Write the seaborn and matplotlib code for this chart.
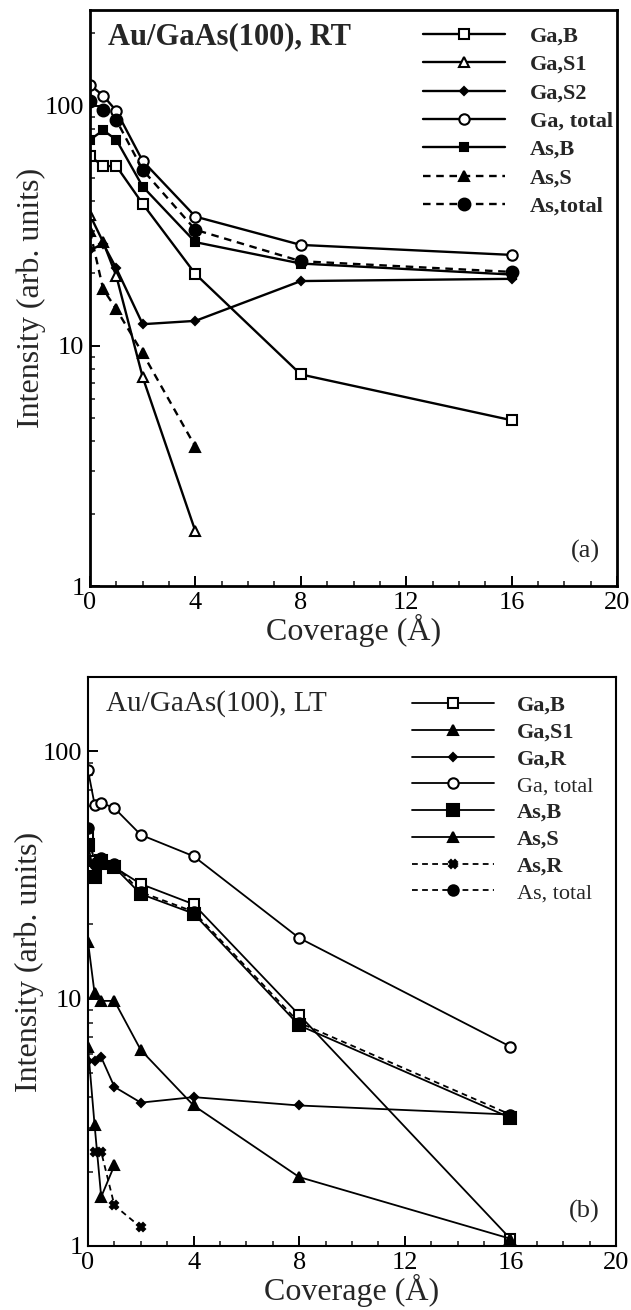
import matplotlib
matplotlib.use("Agg")
import matplotlib.pyplot as plt
import seaborn as sns
from matplotlib.ticker import MultipleLocator, LogLocator, NullFormatter

# ---------------- (a) Au/GaAs(100), room temperature ----------------
rt_cov = [0, 0.5, 1, 2, 4, 8, 16]
rt_cov_surf = [0, 0.5, 1, 2, 4]
rt_ga_b = [61.6, 56, 56, 39, 19.9, 7.6, 4.9]
rt_ga_s1 = [35, 27, 19.5, 7.4, 1.69]
rt_ga_s2 = [25, 26.6, 21, 12.3, 12.7, 18.6, 19.0]
rt_ga_total = [122, 110, 95, 58.8, 34.5, 26.3, 23.9]
rt_as_b = [72, 79, 72, 46, 27, 22, 19.8]
rt_as_s = [30, 17.2, 14.2, 9.3, 3.8]
rt_as_total = [104, 96, 87, 54, 30.4, 22.5, 20.3]
rt_labels = ["Ga,B", "Ga,S1", "Ga,S2", "Ga, total", "As,B", "As,S", "As,total"]

# ---------------- (b) Au/GaAs(100), low temperature ----------------
lt_cov = [0, 0.25, 0.5, 1, 2, 4, 8, 16]
lt_cov_as_s = [0, 0.25, 0.5, 1]
lt_cov_as_r = [0.25, 0.5, 1, 2]
lt_ga_b = [45, 36, 35, 34, 29.1, 24.1, 8.6, 1.07]
lt_ga_s1 = [17, 10.5, 9.8, 9.8, 6.2, 3.7, 1.9, 1.07]
lt_ga_r = [5.6, 5.6, 5.8, 4.4, 3.8, 4.0, 3.7, 3.4]
lt_ga_total = [84, 61, 62, 59, 46, 37.7, 17.6, 6.4]
lt_as_b = [42, 31, 36, 34, 26.5, 22.1, 7.8, 3.3]
lt_as_s = [6.35, 3.08, 1.58, 2.12]
lt_as_r = [2.4, 2.4, 1.46, 1.19]
lt_as_total = [49, 35, 37, 35, 27, 22.5, 8.0, 3.4]
lt_labels = ["Ga,B", "Ga,S1", "Ga,R", "Ga, total", "As,B", "As,S", "As,R", "As, total"]

x_ticks = [0, 4, 8, 12, 16, 20]
y_ticks = [1, 10, 100]

sns.set_theme(style="ticks")
plt.rcParams["font.family"] = ["Liberation Serif", "DejaVu Serif"]

fig = plt.figure(figsize=(6.31, 13.10), dpi=100)
ax_a = fig.add_axes([90 / 631, 1 - 586 / 1310, 527 / 631, 576 / 1310])
ax_b = fig.add_axes([88 / 631, 1 - 1246 / 1310, 528 / 631, 569 / 1310])

SOLID = "-"
DASH = (0, (3.2, 2.4))


def draw(ax, x, y, label, marker, face, ms, ls, lw):
    sns.lineplot(x=x, y=y, ax=ax, sort=False, estimator=None, label=label,
                 color="black", linewidth=lw, linestyle=ls,
                 marker=marker, markersize=ms, markerfacecolor=face,
                 markeredgecolor="black", markeredgewidth=1.5)


# panel (a)
lw_a = 1.7
rt_series = [
    (rt_cov, rt_ga_b, "s", "white", 7, SOLID),
    (rt_cov_surf, rt_ga_s1, "^", "white", 7, SOLID),
    (rt_cov, rt_ga_s2, "D", "black", 4.5, SOLID),
    (rt_cov, rt_ga_total, "o", "white", 7.5, SOLID),
    (rt_cov, rt_as_b, "s", "black", 5.5, SOLID),
    (rt_cov_surf, rt_as_s, "^", "black", 7, DASH),
    (rt_cov, rt_as_total, "o", "black", 8.5, DASH),
]
for (x, y, m, fc, ms, ls), lab in zip(rt_series, rt_labels):
    draw(ax_a, x, y, lab, m, fc, ms, ls, lw_a)

# panel (b)
lw_b = 1.3
lt_series = [
    (lt_cov, lt_ga_b, "s", "white", 7.5, SOLID),
    (lt_cov, lt_ga_s1, "^", "black", 7.5, SOLID),
    (lt_cov, lt_ga_r, "D", "black", 4.5, SOLID),
    (lt_cov, lt_ga_total, "o", "white", 7.5, SOLID),
    (lt_cov, lt_as_b, "s", "black", 8, SOLID),
    (lt_cov_as_s, lt_as_s, "^", "black", 7.5, SOLID),
    (lt_cov_as_r, lt_as_r, "X", "black", 5.5, DASH),
    (lt_cov, lt_as_total, "o", "black", 7.5, DASH),
]
for (x, y, m, fc, ms, ls), lab in zip(lt_series, lt_labels):
    draw(ax_b, x, y, lab, m, fc, ms, ls, lw_b)


def style_axes(ax, ymax, spine_w, title, title_size, title_weight, tag):
    ax.set_yscale("log")
    ax.set_xlim(0, 20)
    ax.set_ylim(1, ymax)
    ax.xaxis.set_minor_locator(MultipleLocator(1))
    ax.set_xticks(x_ticks)
    ax.set_xticklabels([str(t) for t in x_ticks])
    ax.set_yticks(y_ticks)
    ax.set_yticklabels([str(t) for t in y_ticks])
    ax.yaxis.set_minor_locator(LogLocator(base=10, subs=range(2, 10)))
    ax.yaxis.set_minor_formatter(NullFormatter())
    ax.tick_params(which="major", direction="in", length=7, width=1.4,
                   labelsize=19, pad=4, top=False, right=False, colors="black")
    ax.tick_params(which="minor", direction="in", length=3.5, width=1.2,
                   top=False, right=False)
    for sp in ax.spines.values():
        sp.set_linewidth(spine_w)
        sp.set_color("black")
        sp.set_visible(True)
    ax.set_xlabel("Coverage (Å)", fontsize=23, labelpad=0)
    ax.set_ylabel("Intensity (arb. units)", fontsize=23, labelpad=-1)
    ax.text(0.035, 0.953, title, transform=ax.transAxes, fontsize=title_size,
            fontweight=title_weight, ha="left", va="center")
    ax.text(0.94, 0.04, tag, transform=ax.transAxes, fontsize=19,
            ha="center", va="bottom")
    ax.set_facecolor("white")
    ax.grid(False)


style_axes(ax_a, 250, 2.0, "Au/GaAs(100), RT", 22, "bold", "(a)")
style_axes(ax_b, 200, 1.5, "Au/GaAs(100), LT", 21, "normal", "(b)")

leg_a = ax_a.legend(loc="upper left", bbox_to_anchor=(0.632, 0.972),
                    frameon=False, numpoints=1, handlelength=3.7,
                    handletextpad=1.1, labelspacing=0.35, borderpad=0,
                    borderaxespad=0, prop={"size": 16, "weight": "bold"})
leg_b = ax_b.legend(loc="upper left", bbox_to_anchor=(0.614, 0.968),
                    frameon=False, numpoints=1, handlelength=3.7,
                    handletextpad=1.0, labelspacing=0.28, borderpad=0,
                    borderaxespad=0, prop={"size": 16})
for txt in leg_b.get_texts():
    if "total" not in txt.get_text():
        txt.set_fontweight("bold")

fig.savefig("out.png", dpi=100, facecolor="white")
